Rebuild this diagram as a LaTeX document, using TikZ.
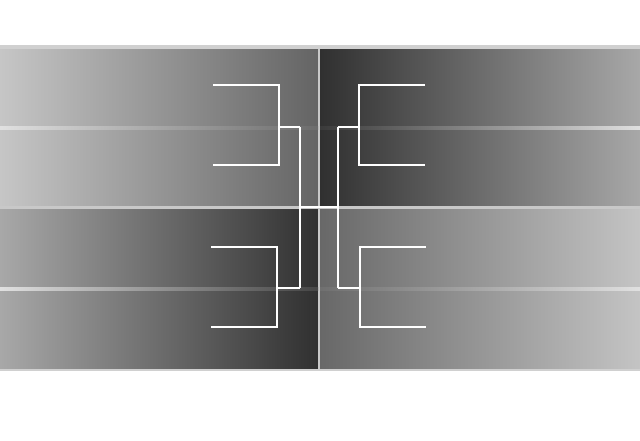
\documentclass[tikz,border=0pt]{standalone}
\definecolor{ltA}{HTML}{C6C6C6}
\definecolor{ltB}{HTML}{646464}
\definecolor{lbA}{HTML}{A8A8A8}
\definecolor{lbB}{HTML}{303030}
\definecolor{rtA}{HTML}{303030}
\definecolor{rtB}{HTML}{A8A8A8}
\definecolor{rbA}{HTML}{686868}
\definecolor{rbB}{HTML}{C4C4C4}
\definecolor{stripC}{HTML}{D0D0D0}
\definecolor{midC}{HTML}{C8C8C8}
\begin{document}
\begin{tikzpicture}[x=1pt,y=-1pt,
  bracket/.style={white, line width=2.5pt}]
\useasboundingbox (0,0) rectangle (640,440);
\fill[white] (0,0) rectangle (640,440);
% quadrants
\shade[left color=ltA, right color=ltB] (0,49) rectangle (318,207);
\shade[left color=lbA, right color=lbB] (0,207) rectangle (318,369);
\shade[left color=rtA, right color=rtB] (320,49) rectangle (640,207);
\shade[left color=rbA, right color=rbB] (320,207) rectangle (640,369);
% strips
\fill[stripC] (0,45) rectangle (640,49);
\fill[stripC] (0,369) rectangle (640,371);
\fill[midC] (0,206) rectangle (640,209);
\fill[midC] (318,49) rectangle (320,369);
% row lines
\shade[left color=black!12, middle color=black!38, right color=ltB!95!white] (0,126) rectangle (318,129);
\shade[left color=black!12, middle color=black!42, right color=lbB!90!white] (0,287) rectangle (318,290);
\shade[left color=rtA!95!white, middle color=black!60, right color=black!12] (320,126) rectangle (640,129);
\shade[left color=rbA!95!white, middle color=black!40, right color=black!12] (320,287) rectangle (640,290);
% bracket coordinates
\coordinate (a1) at (213,85);  \coordinate (a2) at (279,85);
\coordinate (a3) at (279,165); \coordinate (a4) at (213,165);
\coordinate (am) at (279,127); \coordinate (La) at (300,127);
\coordinate (b1) at (211,247); \coordinate (b2) at (277,247);
\coordinate (b3) at (277,327); \coordinate (b4) at (211,327);
\coordinate (bm) at (277,288); \coordinate (Lb) at (300,288);
\coordinate (c1) at (300,207); \coordinate (c2) at (338,207);
\coordinate (d1) at (425,85);  \coordinate (d2) at (359,85);
\coordinate (d3) at (359,165); \coordinate (d4) at (425,165);
\coordinate (dm) at (359,127); \coordinate (Ra) at (338,127);
\coordinate (e1) at (426,247); \coordinate (e2) at (360,247);
\coordinate (e3) at (360,327); \coordinate (e4) at (426,327);
\coordinate (em) at (360,288); \coordinate (Rb) at (338,288);
% brackets
\draw[bracket] (a1) -- (a2) -- (a3) -- (a4);
\draw[bracket] (am) -- (La);
\draw[bracket] (b1) -- (b2) -- (b3) -- (b4);
\draw[bracket] (bm) -- (Lb);
\draw[bracket] (La) -- (Lb);
\draw[bracket] (d1) -- (d2) -- (d3) -- (d4);
\draw[bracket] (dm) -- (Ra);
\draw[bracket] (e1) -- (e2) -- (e3) -- (e4);
\draw[bracket] (em) -- (Rb);
\draw[bracket] (Ra) -- (Rb);
\draw[bracket] (c1) -- (c2);
\end{tikzpicture}
\end{document}
